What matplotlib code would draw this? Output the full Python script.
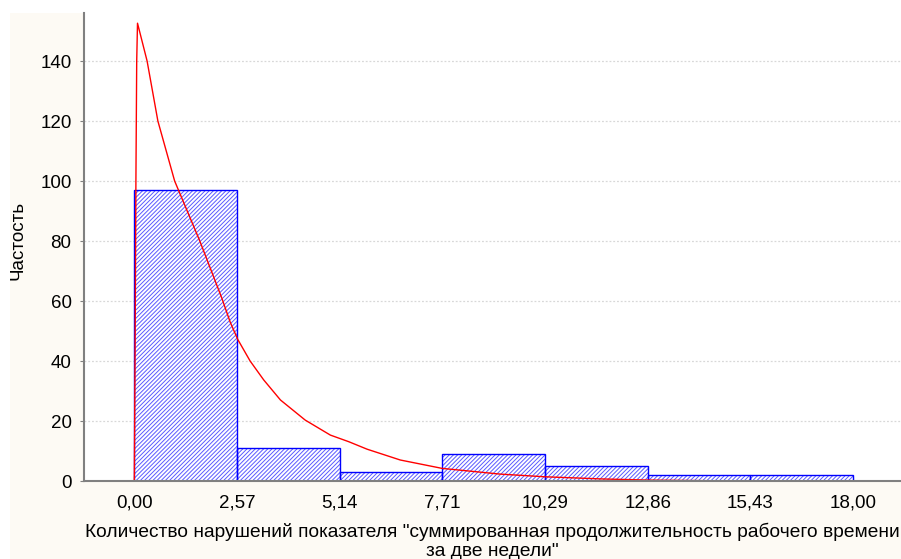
import matplotlib
matplotlib.use("Agg")
import matplotlib.pyplot as plt
from matplotlib.patches import Rectangle
import numpy as np

plt.rcParams['font.family'] = ['Liberation Sans', 'DejaVu Sans']
plt.rcParams['hatch.linewidth'] = 0.7

# Histogram data
bin_edges = [0.0, 2.571, 5.143, 7.714, 10.286, 12.857, 15.429, 18.0]
counts = [97, 11, 3, 9, 5, 2, 2]
tick_labels = ["0,00", "2,57", "5,14", "7,71", "10,29", "12,86", "15,43", "18,00"]

# Fitted curve, points
curve_x = [0.0, 0.02, 0.04, 0.06, 0.08, 0.32, 0.59, 1.01, 1.64, 2.19, 2.40, 2.59, 2.90,
           3.24, 3.66, 4.28, 4.91, 5.37, 5.83, 6.66, 7.71, 9.16, 10.29, 11.67, 12.9, 14.8]
curve_y = [0.0, 45.0, 100.0, 140.0, 152.6, 140.0, 120.0, 100.0, 80.0, 61.0, 53.0, 47.2, 40.0,
           33.7, 27.0, 20.3, 15.3, 13.1, 10.6, 7.0, 4.2, 2.3, 1.4, 0.7, 0.3, 0.05]

W, H = 901, 559
fig = plt.figure(figsize=(W / 100, H / 100), dpi=100)
fig.patch.set_facecolor('white')
fig.add_artist(Rectangle((10 / W, 0), 1 - 10 / W, (H - 13) / H, transform=fig.transFigure,
                         facecolor='#FDFAF4', edgecolor='none', zorder=0))

ax = fig.add_axes([84 / W, (H - 481) / H, 1 - 84 / W, (481 - 13) / H])
ax.set_facecolor('white')
ax.set_zorder(1)

widths = np.diff(bin_edges)
# hatched fill
ax.bar(bin_edges[:-1], counts, width=widths, align='edge', facecolor='white',
       edgecolor='#5A5AFF', hatch='////////', linewidth=0, zorder=2)
# outlines
ax.bar(bin_edges[:-1], counts, width=widths, align='edge', facecolor='none',
       edgecolor='#0000FF', linewidth=1.0, zorder=2.5)
ax.plot(curve_x, curve_y, color='#FF0000', linewidth=1.0, zorder=3)

ax.set_xlim(-1.26, 19.2)
ax.set_ylim(0, 156)
ax.set_yticks([0, 20, 40, 60, 80, 100, 120, 140])
ax.set_xticks(bin_edges)
ax.set_xticklabels(tick_labels)

for yv in [20, 40, 60, 80, 100, 120, 140]:
    ax.axhline(yv, color='#D8D8D8', linestyle=(0, (1.5, 1.5)), linewidth=0.9, zorder=1)

for s in ['top', 'right']:
    ax.spines[s].set_visible(False)
for s in ['left', 'bottom']:
    ax.spines[s].set_color('#808080')
    ax.spines[s].set_linewidth(1.5)
    ax.spines[s].set_zorder(4)

ax.tick_params(axis='y', direction='out', length=3, color='#808080', labelsize=13.5, pad=6)
ax.tick_params(axis='x', direction='in', length=3, color='#333333', labelsize=13.5, pad=10)

fig.text(18.5 / W, 1 - 240 / H, "Частость", rotation=90, fontsize=13.5,
         ha='center', va='center')
ax.set_xlabel('Количество нарушений показателя "суммированная продолжительность рабочего времени\nза две недели"',
              fontsize=13.8, labelpad=8, linespacing=1.15)

fig.savefig("out.png", dpi=100, facecolor=fig.get_facecolor())
